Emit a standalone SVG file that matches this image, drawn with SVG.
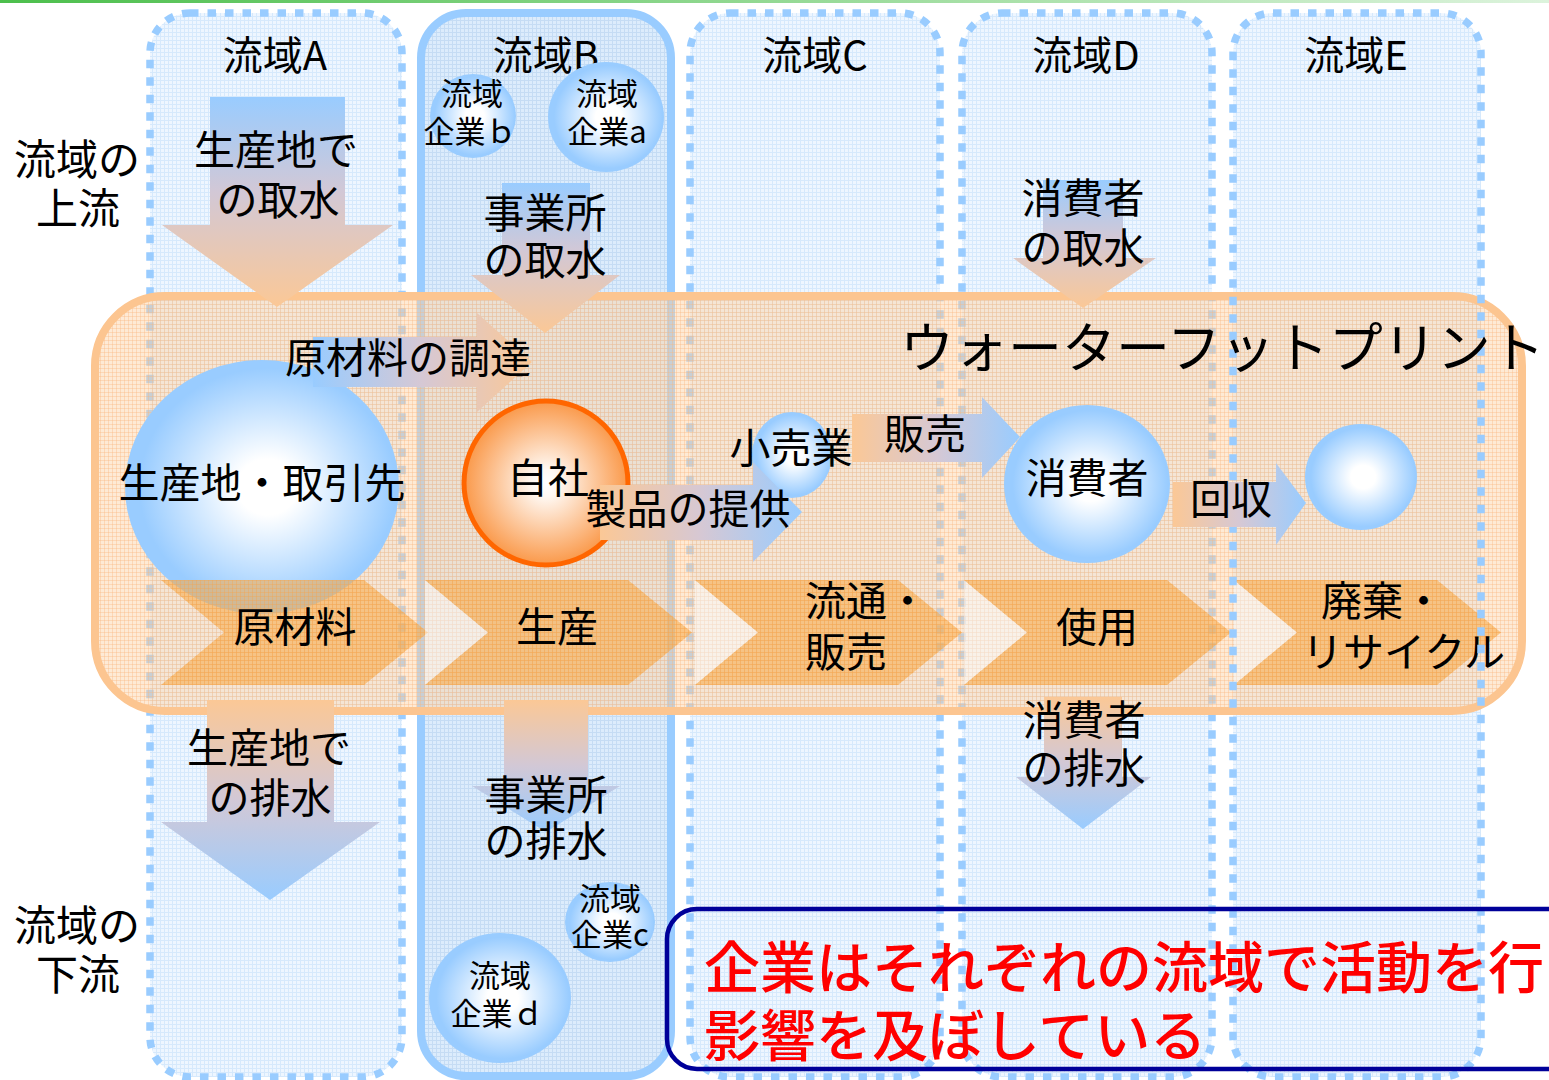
<svg xmlns="http://www.w3.org/2000/svg" width="1549" height="1080" viewBox="0 0 1549 1080">
<defs>
<style>
text { font-family: "Noto Sans CJK JP", "Noto Sans", sans-serif; fill: #000; font-weight: 400; }
.t { font-size: 41px; text-anchor: middle; }
.ts { font-size: 41px; }
.l { font-size: 42px; text-anchor: middle; }
.h { font-size: 40px; text-anchor: middle; }
.s { font-size: 31px; text-anchor: middle; }
.red { font-size: 56px; fill: #ff0000; font-weight: 500; }
.colfill { fill: url(#gridBlue); }
.dot { fill: none; stroke: #99ccff; stroke-width: 7.5; stroke-dasharray: 8.5 9; }
.chev { fill: #f7aa4c; fill-opacity: 0.58; }
.chevg { fill: url(#gridOrange); }
.notch { fill: #ffffff; fill-opacity: 0.45; }
.sphere { fill: url(#rgBlue); }
</style>
<pattern id="gridBlue" width="4" height="4" patternUnits="userSpaceOnUse">
<rect width="4" height="4" fill="#eef6ff"/>
<path d="M0 0.5H4M0.5 0V4" stroke="#d6e9fc" stroke-width="1"/>
</pattern>
<pattern id="gridBlueB" width="4" height="4" patternUnits="userSpaceOnUse">
<rect width="4" height="4" fill="#dcecfc"/>
<path d="M0 0.5H4M0.5 0V4" stroke="#c5dcf4" stroke-width="1"/>
</pattern>
<pattern id="gridOrange" width="4" height="4" patternUnits="userSpaceOnUse">
<path d="M0 0.5H4M0.5 0V4" stroke="#f5a24a" stroke-width="1" stroke-opacity="0.35"/>
</pattern>
<pattern id="gridOrangeL" width="4" height="4" patternUnits="userSpaceOnUse">
<path d="M0 0.5H4M0.5 0V4" stroke="#f9b57a" stroke-width="1" stroke-opacity="0.35"/>
</pattern>
<linearGradient id="topline" x1="0" y1="0" x2="1" y2="0">
<stop offset="0" stop-color="#4cbf4c"/>
<stop offset="1" stop-color="#dcf3dc"/>
</linearGradient>
<linearGradient id="gDown" x1="0" y1="0" x2="0" y2="1">
<stop offset="0" stop-color="#99ccff"/>
<stop offset="0.45" stop-color="#d2c8d6"/>
<stop offset="1" stop-color="#fbc896"/>
</linearGradient>
<linearGradient id="gDown2" x1="0" y1="0" x2="0" y2="1">
<stop offset="0" stop-color="#fbc896"/>
<stop offset="0.5" stop-color="#d2c8d6"/>
<stop offset="1" stop-color="#99ccff"/>
</linearGradient>
<linearGradient id="gRightBO" x1="0" y1="0" x2="1" y2="0">
<stop offset="0" stop-color="#99ccff"/>
<stop offset="0.5" stop-color="#d6c8d4"/>
<stop offset="1" stop-color="#fbc896"/>
</linearGradient>
<linearGradient id="gRightOB" x1="0" y1="0" x2="1" y2="0">
<stop offset="0" stop-color="#fbc896"/>
<stop offset="0.5" stop-color="#d6c8d4"/>
<stop offset="1" stop-color="#99ccff"/>
</linearGradient>
<radialGradient id="rgBlue" cx="0.52" cy="0.5" r="0.55">
<stop offset="0" stop-color="#ffffff"/>
<stop offset="0.2" stop-color="#ffffff"/>
<stop offset="0.85" stop-color="#99ccff"/>
<stop offset="1" stop-color="#99ccff"/>
</radialGradient>
<radialGradient id="rgOrange" cx="0.5" cy="0.5" r="0.55">
<stop offset="0" stop-color="#ffffff"/>
<stop offset="0.15" stop-color="#fff8f2"/>
<stop offset="0.9" stop-color="#fa9a4c"/>
<stop offset="1" stop-color="#fa9a4c"/>
</radialGradient>
</defs>

<rect x="0" y="0" width="1549" height="3" fill="url(#topline)"/>

<g id="basins">
<g id="basin-A">
<rect class="colfill" x="150" y="13" width="252" height="1064" rx="40"/>
<rect class="dot" x="150" y="13" width="252" height="1064" rx="40"/>
</g>
<g id="basin-B">
<rect x="421" y="13" width="250" height="1063" rx="45" fill="url(#gridBlueB)" stroke="#99ccff" stroke-width="8"/>
</g>
<g id="basin-C">
<rect class="colfill" x="690" y="13" width="250" height="1064" rx="40"/>
<rect class="dot" x="690" y="13" width="250" height="1064" rx="40"/>
</g>
<g id="basin-D">
<rect class="colfill" x="962" y="13" width="250" height="1064" rx="40"/>
<rect class="dot" x="962" y="13" width="250" height="1064" rx="40"/>
</g>
<g id="basin-E-fill">
<rect class="colfill" x="1233" y="13" width="248" height="1064" rx="40"/>
</g>
</g>

<g id="water-footprint">
<rect x="95" y="296" width="1427" height="415" rx="70" fill="#fcd2a6" fill-opacity="0.47"/>
<rect x="95" y="296" width="1427" height="415" rx="70" fill="url(#gridOrangeL)"/>
<rect x="95" y="296" width="1427" height="415" rx="70" fill="none" stroke="#fcc590" stroke-width="8"/>
</g>

<g id="headings">
<text class="h" x="275" y="70">流域A</text>
<text class="h" x="546" y="70">流域B</text>
<text class="h" x="815" y="70">流域C</text>
<text class="h" x="1086" y="70">流域D</text>
<text class="h" x="1356" y="70">流域E</text>
<text class="l" x="77" y="175">流域の</text>
<text class="l" x="78" y="224">上流</text>
<text class="l" x="77" y="941">流域の</text>
<text class="l" x="78" y="990">下流</text>
</g>

<g id="node-supplier"><ellipse class="sphere" cx="262" cy="487" rx="137" ry="127"/></g>
<g id="node-self"><circle cx="546" cy="483" r="82" fill="url(#rgOrange)" stroke="#ff6600" stroke-width="5"/></g>
<g id="node-retail"><ellipse class="sphere" cx="792" cy="455" rx="40" ry="43"/></g>
<g id="node-consumer"><ellipse class="sphere" cx="1087" cy="484" rx="83" ry="79"/></g>
<g id="node-recycle"><ellipse class="sphere" cx="1361" cy="477" rx="56" ry="53"/></g>
<g id="node-company-b"><ellipse class="sphere" cx="473" cy="116" rx="43" ry="42"/></g>
<g id="node-company-a"><ellipse class="sphere" cx="606" cy="117" rx="58" ry="55"/></g>
<g id="node-company-c"><ellipse class="sphere" cx="610" cy="922" rx="45" ry="40"/></g>
<g id="node-company-d"><ellipse class="sphere" cx="500" cy="998" rx="71" ry="65"/></g>

<g id="stages">
<g id="stage-1">
<path class="chev" d="M161 580H364L428 632.5L364 685H161L224 632.5Z"/>
<path class="chevg" d="M161 580H364L428 632.5L364 685H161L224 632.5Z"/>
</g>
<g id="stage-2">
<path class="notch" d="M425 580L488 632.5L425 685Z"/>
<path class="chev" d="M425 580H628L692 632.5L628 685H425L488 632.5Z"/>
<path class="chevg" d="M425 580H628L692 632.5L628 685H425L488 632.5Z"/>
</g>
<g id="stage-3">
<path class="notch" d="M695 580L758 632.5L695 685Z"/>
<path class="chev" d="M695 580H898L962 632.5L898 685H695L758 632.5Z"/>
<path class="chevg" d="M695 580H898L962 632.5L898 685H695L758 632.5Z"/>
</g>
<g id="stage-4">
<path class="notch" d="M964 580L1027 632.5L964 685Z"/>
<path class="chev" d="M964 580H1167L1231 632.5L1167 685H964L1027 632.5Z"/>
<path class="chevg" d="M964 580H1167L1231 632.5L1167 685H964L1027 632.5Z"/>
</g>
<g id="stage-5">
<path class="notch" d="M1234 580L1297 632.5L1234 685Z"/>
<path class="chev" d="M1234 580H1437L1501 632.5L1437 685H1234L1297 632.5Z"/>
<path class="chevg" d="M1234 580H1437L1501 632.5L1437 685H1234L1297 632.5Z"/>
</g>
<text class="t" x="295" y="642">原材料</text>
<text class="t" x="557" y="642">生産</text>
<text class="ts" x="805" y="616">流通・</text>
<text class="ts" x="805" y="667">販売</text>
<text class="t" x="1097" y="642">使用</text>
<text class="ts" x="1321" y="616">廃棄・</text>
<text class="ts" x="1302" y="667">リサイクル</text>
</g>

<g id="basin-E-border">
<rect class="dot" x="1233" y="13" width="248" height="1064" rx="40"/>
</g>

<g id="connectors">
<path d="M210 97H345V225H393L277 307L162 225H210Z" fill="url(#gDown)"/>
<path d="M502 183H590V275H620L545 333L471 275H502Z" fill="url(#gDown)"/>
<path d="M1043 180H1123V258H1156L1083 308L1013 258H1043Z" fill="url(#gDown)"/>
<path d="M207 700H334V822H380L270 900L161 822H207Z" fill="url(#gDown2)"/>
<path d="M504 700H588V786H620L546 832L472 786H504Z" fill="url(#gDown2)"/>
<path d="M1044 697H1122V777H1151L1083 829L1016 777H1044Z" fill="url(#gDown2)"/>
<path d="M313 337H477V313L532 362L477 412V387H313Z" fill="url(#gRightBO)"/>
<path d="M600 485H753V462L802 512L753 562V540H600Z" fill="url(#gRightOB)"/>
<path d="M852 414H982V397L1020 437L982 478V462H852Z" fill="url(#gRightOB)"/>
<path d="M1173 482H1276V463L1306 503L1276 545V527H1173Z" fill="url(#gRightOB)"/>
</g>

<g id="labels">
<text class="t" x="276" y="165">生産地で</text>
<text class="t" x="278" y="215">の取水</text>
<text class="t" x="545" y="228">事業所</text>
<text class="t" x="545" y="275">の取水</text>
<text class="t" x="1083" y="213">消費者</text>
<text class="t" x="1083" y="263">の取水</text>
<text class="t" x="269" y="763">生産地で</text>
<text class="t" x="270" y="813">の排水</text>
<text class="t" x="546" y="810">事業所</text>
<text class="t" x="546" y="856">の排水</text>
<text class="t" x="1084" y="735">消費者</text>
<text class="t" x="1084" y="783">の排水</text>
<text class="t" x="408" y="373">原材料の調達</text>
<text class="t" x="262" y="498">生産地・取引先</text>
<text class="t" x="548" y="493">自社</text>
<text class="t" x="688" y="524">製品の提供</text>
<text class="t" x="791" y="463">小売業</text>
<text class="t" x="925" y="449">販売</text>
<text class="t" x="1087" y="493">消費者</text>
<text class="t" x="1231" y="514">回収</text>
<text class="s" x="472" y="105">流域</text>
<text class="s" x="470" y="143">企業ｂ</text>
<text class="s" x="607" y="105">流域</text>
<text class="s" x="607" y="143">企業a</text>
<text class="s" x="610" y="910">流域</text>
<text class="s" x="610" y="946">企業c</text>
<text class="s" x="500" y="987">流域</text>
<text class="s" x="497" y="1025">企業ｄ</text>
<text x="900" y="368" font-size="54">ウォーターフットプリント</text>
</g>

<g id="message">
<rect x="667" y="909" width="950" height="160" rx="30" fill="none" stroke="#000099" stroke-width="4.5"/>
<text class="red" x="704" y="988">企業はそれぞれの流域で活動を行</text>
<text class="red" x="704" y="1056">影響を及ぼしている</text>
</g>
</svg>
